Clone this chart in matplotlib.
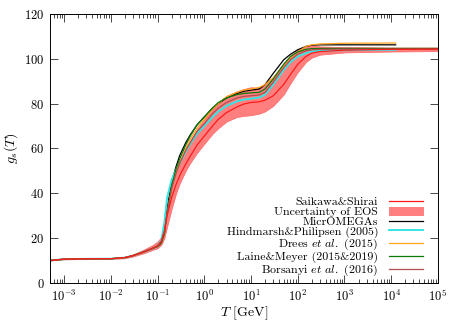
import matplotlib
matplotlib.use("Agg")
import matplotlib.pyplot as plt
from matplotlib.ticker import NullFormatter, MultipleLocator, LogLocator

plt.rcParams['font.family'] = 'serif'
plt.rcParams['font.serif'] = ['cmr10']
plt.rcParams['mathtext.fontset'] = 'cm'
plt.rcParams['axes.formatter.use_mathtext'] = True
plt.rcParams['font.size'] = 9

# temperatures (GeV)
T = [5e-4, 1e-3, 3e-3, 1e-2, 2e-2, 3e-2, 5e-2, 8e-2, 0.1, 0.12, 0.14, 0.16, 0.2,
     0.25, 0.3, 0.4, 0.5, 0.7, 1, 1.5, 2, 3, 5, 7, 10, 15, 20, 30, 50, 70, 100,
     150, 200, 300, 1e3, 1e4, 1e5]
T_short = T[:-1] + [1.25e4]

saikawa = [10.0, 10.6, 10.75, 10.8, 11.3, 12.2, 13.8, 15.6, 16.6, 18.5, 23, 30, 38,
           44, 48, 53, 56.5, 61.5, 65.5, 70, 73, 76, 78.5, 79.8, 80.5, 80.8, 81.5,
           83.5, 88.5, 93, 97.5, 101, 102.5, 103.2, 103.8, 104.2, 104.3]
eos_low = [10.0, 10.5, 10.7, 10.75, 11.0, 11.8, 13.2, 14.8, 15.5, 17, 20, 25, 33,
           40, 44.5, 50, 53.5, 58, 62, 66.5, 69, 72, 74, 74.5, 74.8, 75.5, 76.5,
           79, 84, 89, 94, 98.5, 100.5, 101.8, 102.8, 103.2, 103.4]
eos_high = [10.0, 10.7, 10.8, 10.9, 11.6, 12.8, 14.8, 17, 18.5, 20.5, 26, 35, 44,
            50, 54, 60, 63.5, 68.5, 73, 77.5, 80.5, 83.5, 85.5, 86.5, 87.3, 87,
            88.5, 92, 98, 101.5, 104, 105.8, 106, 105.5, 105.2, 105, 105]
micromegas = [10.0, 10.6, 10.75, 10.8, 11.3, 12.2, 13.8, 15.5, 16.3, 17.8, 22, 33,
              45, 52, 57, 62.5, 66, 70.5, 74, 78, 80, 82.5, 84.5, 85.5, 86, 86.5,
              88.5, 93.5, 99.5, 102, 104, 105.5, 106, 106.2, 106.2, 106.2, 106.2]
hindmarsh = [10.0, 10.6, 10.75, 10.8, 11.3, 12.2, 13.8, 15.5, 16.5, 19, 27, 38,
             46, 50.5, 53.5, 58.5, 62, 66.5, 70, 74, 76.5, 79, 81, 81.8, 82.2,
             82.7, 84, 88.5, 95, 98.5, 101, 102.5, 103.2, 103.6, 103.8, 104, 104]
drees = [10.0, 10.6, 10.75, 10.8, 11.3, 12.2, 13.8, 15.5, 16.5, 18, 22, 31, 42,
         49.5, 54, 60, 64, 69, 73, 77.5, 80, 83, 85, 86, 86.5, 87.2, 88.5, 91.5,
         97, 100.5, 103, 105.5, 106.2, 106.6, 106.9, 107, 107]
laine = [10.0, 10.6, 10.75, 10.8, 11.3, 12.2, 13.8, 15.5, 16.3, 18, 22, 31, 43,
         51, 55.5, 61.5, 65.5, 70.5, 74, 78, 80.5, 82.5, 84, 84.5, 84.8, 85, 86.5,
         91, 97.5, 101, 103, 104.2, 104.5, 104.6, 104.6, 104.6, 104.6]
borsanyi = [10.0, 10.6, 10.75, 10.8, 11.3, 12.2, 13.8, 15.5, 16.5, 18.5, 23, 31,
            42, 49, 53.5, 59, 62.5, 67.5, 71, 75.5, 78, 80.5, 82.5, 83.2, 83.5,
            83.8, 85, 89.5, 96, 99.5, 102, 103.5, 104, 104.2, 104.3, 104.3, 104.3]

xticks = [1e-3, 1e-2, 1e-1, 1e0, 1e1, 1e2, 1e3, 1e4, 1e5]

fig = plt.figure(figsize=(4.59, 3.23), dpi=100)
ax = fig.add_axes([0.109, 0.124, 0.845, 0.833])

band = ax.fill_between(T, eos_low, eos_high, color='#ff7f7f', lw=0.5, ec='#ff6666')
l_mo, = ax.plot(T_short, micromegas, color='black', lw=0.9)
l_hp, = ax.plot(T_short, hindmarsh, color='#33e5e5', lw=1.4)
l_dr, = ax.plot(T_short, drees, color='#ffa31a', lw=0.9)
l_lm, = ax.plot(T, laine, color='#0a7a0a', lw=0.9)
l_bo, = ax.plot(T, borsanyi, color='#b34d4d', lw=0.9)
l_ss, = ax.plot(T, saikawa, color='#ff1a1a', lw=0.9)

handles = [l_ss, band, l_mo, l_hp, l_dr, l_lm, l_bo]
labels = ['Saikawa&Shirai', 'Uncertainty of EOS', 'MicrOMEGAs',
          'Hindmarsh&Philipsen (2005)', r'Drees $et\ al.$ (2015)',
          'Laine&Meyer (2015&2019)', r'Borsanyi $et\ al.$ (2016)']
ax.legend(handles, labels, loc='lower right', frameon=False, markerfirst=False,
          fontsize=8.6, handlelength=2.9, labelspacing=-0.05, handletextpad=0.9,
          borderaxespad=0.0, bbox_to_anchor=(0.975, 0.0))

ax.set_xscale('log')
ax.set_xlim(5e-4, 1e5)
ax.set_ylim(0, 120)
ax.set_xticks(xticks)
ax.xaxis.set_minor_locator(LogLocator(base=10, subs=range(2, 10), numticks=100))
ax.xaxis.set_minor_formatter(NullFormatter())
ax.yaxis.set_major_locator(MultipleLocator(20))
ax.tick_params(which='both', direction='in', top=True, right=True, width=0.5)
ax.tick_params(which='major', length=5.5, pad=4)
ax.tick_params(which='minor', length=3)
for s in ax.spines.values():
    s.set_linewidth(0.7)

ax.set_xlabel(r'$T$ [GeV]', fontsize=10, labelpad=0)
ax.set_ylabel(r'$g_s(T)$', fontsize=10, labelpad=3)

fig.savefig('out.png', dpi=100)
